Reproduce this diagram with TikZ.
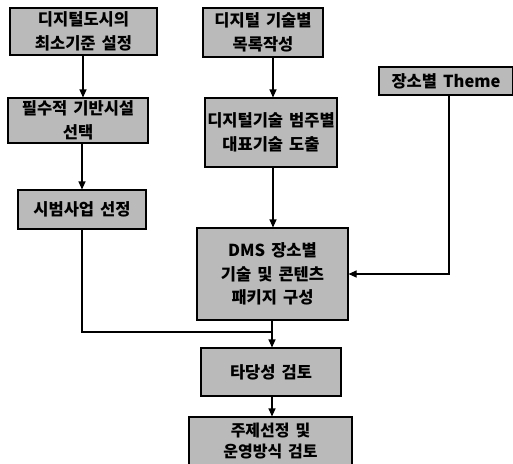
\documentclass[tikz,border=0pt]{standalone}
\usepackage{fontspec}
\setmainfont{Noto Sans CJK KR}[WordSpace=1.6]
\usetikzlibrary{arrows.meta}
\begin{document}
\begin{tikzpicture}[x=1pt,y=-1pt,
  box/.style={draw=black, line width=1.1pt, fill=black!27, inner sep=0pt, align=center,
    font=\fontsize{16.5}{23.5}\selectfont\bfseries},
  conn/.style={line width=1.1pt},
  arr/.style={conn, -{Triangle[length=8pt,width=7pt]}}]
\useasboundingbox (0,0) rectangle (513,463);
\clip (0,0) rectangle (513,463);
\node[box, minimum width=147pt, minimum height=47pt] (b1) at (83.5,31.5) {디지털도시의\\최소기준 설정};
\node[box, minimum width=140pt, minimum height=45pt] (b2) at (78,120.5) {필수적 기반시설\\선택};
\node[box, minimum width=128pt, minimum height=39pt] (b3) at (82,209.5) {시범사업 선정};
\node[box, minimum width=120pt, minimum height=49pt] (b4) at (263,32.5) {디지털 기술별\\목록작성};
\node[box, minimum width=132pt, minimum height=69pt] (b5) at (271,132.5) {디지털기술 범주별\\대표기술 도출};
\node[box, minimum width=134pt, minimum height=28pt] (b6) at (446,81) {장소별 Theme};
\node[box, minimum width=151pt, minimum height=92pt] (dms) at (272.5,274) {DMS 장소별\\기술 및 콘텐츠\\패키지 구성};
\node[box, minimum width=140pt, minimum height=48pt] (val) at (271,372) {타당성 검토};
\node[box, minimum width=163pt, minimum height=48pt, font=\fontsize{16}{21}\selectfont\bfseries] (sel) at (270.5,441) {주제선정 및\\운영방식 검토};
\coordinate (join) at (272,332);
\draw[arr] (b1.south -| 83,0) -- (b2.north -| 83,0);
\draw[arr] (b2.south -| 82,0) -- (b3.north -| 82,0);
\draw[arr] (b4.south -| 273,0) -- (b5.north -| 273,0);
\draw[arr] (b5.south -| 273,0) -- (dms.north -| 273,0);
\draw[arr] (b6.south -| 449,0) |- (dms.east);
\draw[conn] (b3.south -| 82,0) |- (join);
\draw[arr] (dms.south -| 272,0) -- (val.north -| 272,0);
\draw[arr] (val.south -| 272,0) -- (sel.north -| 272,0);
\end{tikzpicture}
\end{document}
